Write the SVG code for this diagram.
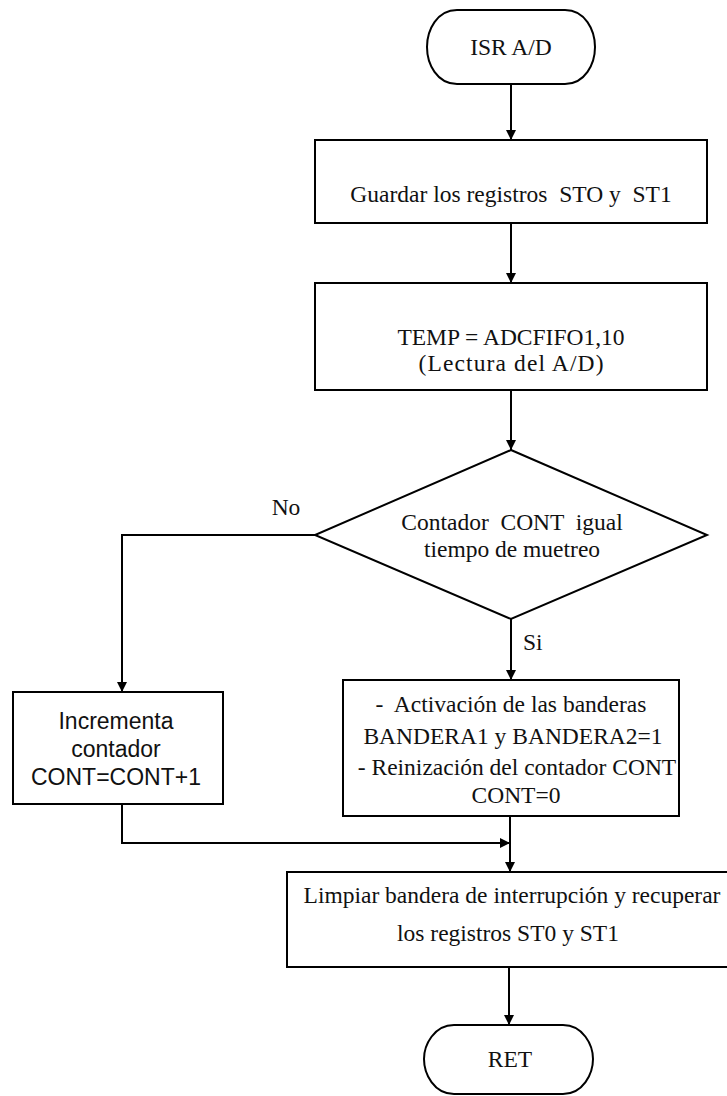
<svg xmlns="http://www.w3.org/2000/svg" width="727" height="1096" viewBox="0 0 727 1096">
  <style>
    .shape { fill: #ffffff; stroke: #000000; stroke-width: 2; }
    .wire { fill: none; stroke: #000000; stroke-width: 2; }
    .serif { font-family: "Liberation Serif", "Times New Roman", serif; font-size: 23.5px; fill: #111111; white-space: pre; }
    .sans { font-family: "Liberation Sans", Arial, sans-serif; font-size: 23px; fill: #111111; }
    .mid { text-anchor: middle; }
  </style>
  <defs>
    <marker id="arrow" viewBox="0 0 10 10" refX="10" refY="5" markerWidth="10" markerHeight="10" markerUnits="userSpaceOnUse" orient="auto">
      <path d="M0,0 L10,5 L0,10 Z" fill="#000000"/>
    </marker>
  </defs>

  <rect width="727" height="1096" fill="#ffffff"/>

  <!-- connectors -->
  <g id="connectors">
    <path class="wire" d="M511,84 V140" marker-end="url(#arrow)"/>
    <path class="wire" d="M511,223 V283" marker-end="url(#arrow)"/>
    <path class="wire" d="M511,390 V450" marker-end="url(#arrow)"/>
    <path class="wire" d="M511,619 V680" marker-end="url(#arrow)"/>
    <path class="wire" d="M315,535 H122 V692" marker-end="url(#arrow)"/>
    <path class="wire" d="M122,804 V843 H510" marker-end="url(#arrow)"/>
    <path class="wire" d="M510,816 V872" marker-end="url(#arrow)"/>
    <path class="wire" d="M509,967 V1025" marker-end="url(#arrow)"/>
    <text class="serif mid" x="286" y="515">No</text>
    <text class="serif" x="523" y="650">Si</text>
  </g>

  <!-- start terminator -->
  <g id="start">
    <path class="shape" d="M457,10 H565 C585,10 595,30 595,47 C595,64 585,84 565,84 H457 C437,84 427,64 427,47 C427,30 437,10 457,10 Z"/>
    <text class="serif mid" x="511" y="55">ISR A/D</text>
  </g>

  <!-- save registers -->
  <g id="save">
    <rect class="shape" x="315" y="140" width="392" height="83"/>
    <text class="serif mid" x="511" y="202">Guardar los registros  STO y  ST1</text>
  </g>

  <!-- read A/D -->
  <g id="read">
    <rect class="shape" x="315" y="283" width="392" height="107"/>
    <text class="serif mid" x="511" y="345">TEMP = ADCFIFO1,10</text>
    <text class="serif mid" x="511" y="371" textLength="185" lengthAdjust="spacing">(Lectura del A/D)</text>
  </g>

  <!-- decision -->
  <g id="decision">
    <path class="shape" d="M511,450 L707,535 L511,619 L315,535 Z"/>
    <text class="serif mid" x="512" y="530">Contador  CONT  igual</text>
    <text class="serif mid" x="512" y="557">tiempo de muetreo</text>
  </g>

  <!-- increment counter -->
  <g id="increment">
    <rect class="shape" x="13" y="692" width="210" height="112"/>
    <text class="sans mid" x="116" y="729">Incrementa</text>
    <text class="sans mid" x="116" y="757">contador</text>
    <text class="sans mid" x="116" y="785">CONT=CONT+1</text>
  </g>

  <!-- set flags -->
  <g id="flags">
    <rect class="shape" x="343" y="680" width="336" height="136"/>
    <text class="serif mid" x="511" y="712">-  Activación de las banderas</text>
    <text class="serif mid" x="513" y="744">BANDERA1 y BANDERA2=1</text>
    <text class="serif mid" x="517" y="775">- Reinización del contador CONT</text>
    <text class="serif mid" x="516" y="803">CONT=0</text>
  </g>

  <!-- clear interrupt flag -->
  <g id="clear">
    <rect class="shape" x="287" y="872" width="446" height="95"/>
    <text class="serif mid" x="512" y="903">Limpiar bandera de interrupción y recuperar</text>
    <text class="serif mid" x="508" y="941">los registros ST0 y ST1</text>
  </g>

  <!-- end terminator -->
  <g id="end">
    <path class="shape" d="M454,1025 H563 C583,1025 593,1045 593,1059 C593,1074 583,1094 563,1094 H454 C434,1094 424,1074 424,1059 C424,1045 434,1025 454,1025 Z"/>
    <text class="serif mid" x="510" y="1067">RET</text>
  </g>
</svg>
